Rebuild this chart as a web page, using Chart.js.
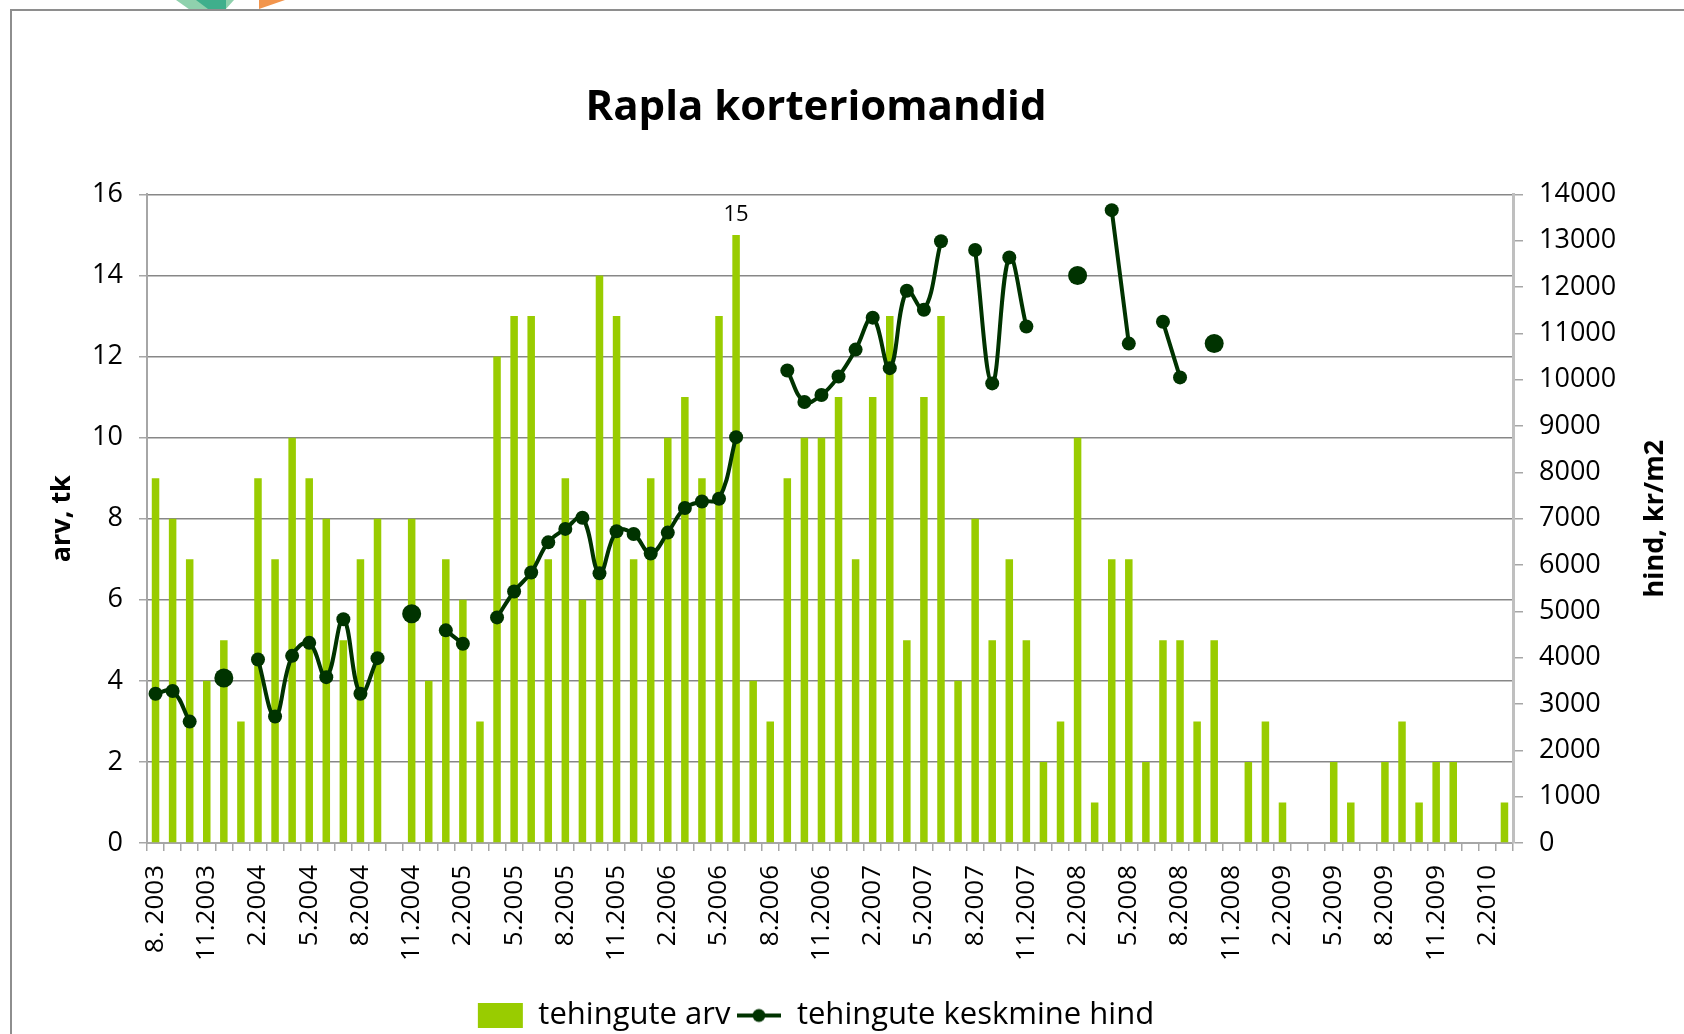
<!DOCTYPE html>
<html>
<head>
<meta charset="utf-8">
<title>Rapla korteriomandid</title>
<script src="https://cdn.jsdelivr.net/npm/chart.js@4/dist/chart.umd.min.js"></script>
<style>
  html, body { margin: 0; padding: 0; background: #fff; }
  #wrap { position: relative; width: 1684px; height: 1034px; overflow: hidden; background: #fff; }
  #frame { position: absolute; left: 10px; top: 9px; right: -4px; bottom: -4px;
           border-left: 2px solid #8e8e8e; border-top: 2px solid #8e8e8e; }
  .logo { position: absolute; top: 0; height: 9px; }
  #logoA { left: 176px; width: 58px; background: #8fd1ad; clip-path: polygon(0 0, 100% 0, 86% 100%, 22% 100%); }
  #logoB { left: 196px; width: 30px; background: #3faf8c; clip-path: polygon(0 0, 100% 0, 100% 100%, 40% 100%); }
  #logoC { left: 259px; width: 26px; background: #f2954d; clip-path: polygon(0 0, 100% 0, 0 100%); }
  canvas { position: absolute; left: 0; top: 0; }
</style>
</head>
<body>
<div id="wrap">
  <div class="logo" id="logoA"></div>
  <div class="logo" id="logoB"></div>
  <div class="logo" id="logoC"></div>
  <div id="frame"></div>
  <canvas id="chart" width="1684" height="1034"></canvas>
</div>
<script>
// months 8.2003 .. 3.2010
const months = [
  '8. 2003', '9.2003', '10.2003', '11.2003', '12.2003',
  '1.2004', '2.2004', '3.2004', '4.2004', '5.2004', '6.2004', '7.2004', '8.2004', '9.2004', '10.2004', '11.2004', '12.2004',
  '1.2005', '2.2005', '3.2005', '4.2005', '5.2005', '6.2005', '7.2005', '8.2005', '9.2005', '10.2005', '11.2005', '12.2005',
  '1.2006', '2.2006', '3.2006', '4.2006', '5.2006', '6.2006', '7.2006', '8.2006', '9.2006', '10.2006', '11.2006', '12.2006',
  '1.2007', '2.2007', '3.2007', '4.2007', '5.2007', '6.2007', '7.2007', '8.2007', '9.2007', '10.2007', '11.2007', '12.2007',
  '1.2008', '2.2008', '3.2008', '4.2008', '5.2008', '6.2008', '7.2008', '8.2008', '9.2008', '10.2008', '11.2008', '12.2008',
  '1.2009', '2.2009', '3.2009', '4.2009', '5.2009', '6.2009', '7.2009', '8.2009', '9.2009', '10.2009', '11.2009', '12.2009',
  '1.2010', '2.2010', '3.2010'
];

// number of deals per month
const dealCount = [
  9, 8, 7, 4, 5,
  3, 9, 7, 10, 9, 8, 5, 7, 8, 0, 8, 4,
  7, 6, 3, 12, 13, 13, 7, 9, 6, 14, 13, 7,
  9, 10, 11, 9, 13, 15, 4, 3, 9, 10, 10, 11,
  7, 11, 13, 5, 11, 13, 4, 8, 5, 7, 5, 2,
  3, 10, 1, 7, 7, 2, 5, 5, 3, 5, 0, 2,
  3, 1, 0, 0, 2, 1, 0, 2, 3, 1, 2, 2,
  0, 0, 1
];

// average price, kr/m2 (null = no figure for that month)
const avgPrice = [
  3220, 3280, 2620, null, 3560,
  null, 3960, 2730, 4040, 4320, 3580, 4830, 3220, 3990, null, 4950, null,
  4590, 4300, null, 4870, 5430, 5840, 6490, 6780, 7020, 5820, 6730, 6670,
  6250, 6700, 7230, 7370, 7430, 8760, null, null, 10200, 9520, 9670, 10070,
  10650, 11340, 10250, 11920, 11510, 12990, null, 12800, 9920, 12640, 11150, null,
  null, 12250, null, 13660, 10780, null, 11250, 10050, null, 10780, null, null,
  null, null, null, null, null, null, null, null, null, null, null, null,
  null, null, null
];

const countTicks = { min: 0, max: 16, step: 2 };
const priceTicks = { min: 0, max: 14000, step: 1000 };

const BAR_GREEN = '#99cc00';
const LINE_GREEN = '#003300';
const GRID = '#878787';
const FONT = '"Open Sans", "DejaVu Sans", sans-serif';
const PAD_BOTTOM = -7;

Chart.defaults.color = '#000';
Chart.defaults.font.family = FONT;

// legend swatch for the price series: a line with a dot on it
function lineSwatch() {
  const c = document.createElement('canvas');
  c.width = 44; c.height = 18;
  const g = c.getContext('2d');
  g.strokeStyle = LINE_GREEN;
  g.lineWidth = 4;
  g.beginPath(); g.moveTo(0, 9); g.lineTo(44, 9); g.stroke();
  g.fillStyle = LINE_GREEN;
  g.beginPath(); g.arc(22, 9, 6.5, 0, Math.PI * 2); g.fill();
  return c;
}

// number above the tallest bar
const maxLabel = {
  id: 'maxLabel',
  afterDatasetsDraw(chart) {
    const meta = chart.getDatasetMeta(0);
    const data = chart.data.datasets[0].data;
    const i = data.indexOf(Math.max(...data));
    const bar = meta.data[i];
    const ctx = chart.ctx;
    ctx.save();
    ctx.font = '22px ' + FONT;
    ctx.fillStyle = '#000';
    ctx.textAlign = 'center';
    ctx.textBaseline = 'middle';
    ctx.fillText(String(data[i]), bar.x, bar.y - 20);
    ctx.restore();
  }
};

// right axis title, reading bottom to top
const rightTitle = {
  id: 'rightTitle',
  afterDraw(chart) {
    const ctx = chart.ctx;
    const area = chart.chartArea;
    ctx.save();
    ctx.translate(1655, (area.top + area.bottom) / 2);
    ctx.rotate(-Math.PI / 2);
    ctx.font = 'bold 27px ' + FONT;
    ctx.fillStyle = '#000';
    ctx.textAlign = 'center';
    ctx.textBaseline = 'middle';
    ctx.fillText('hind, kr/m2', 0, 0);
    ctx.restore();
  }
};

function isolated(ctx) {
  const d = ctx.dataset.data, i = ctx.dataIndex;
  return d[i - 1] == null && d[i + 1] == null;
}

new Chart(document.getElementById('chart'), {
  data: {
    labels: months,
    datasets: [
      {
        type: 'bar',
        label: 'tehingute arv',
        data: dealCount,
        backgroundColor: BAR_GREEN,
        yAxisID: 'y',
        barPercentage: 0.44,
        categoryPercentage: 1,
        order: 1
      },
      {
        type: 'line',
        label: 'tehingute keskmine hind',
        data: avgPrice,
        yAxisID: 'y1',
        borderColor: LINE_GREEN,
        backgroundColor: LINE_GREEN,
        borderWidth: 4,
        tension: 0.4,
        spanGaps: false,
        pointRadius: ctx => isolated(ctx) ? 9.5 : 7,
        pointBorderWidth: 0,
        pointBackgroundColor: LINE_GREEN,
        order: 0
      }
    ]
  },
  options: {
    responsive: false,
    animation: false,
    layout: { padding: { left: 0, right: 52, top: 0, bottom: PAD_BOTTOM } },
    plugins: {
      tooltip: { enabled: false },
      title: {
        display: true,
        text: 'Rapla korteriomandid',
        color: '#000',
        font: { size: 42, weight: 'bold', lineHeight: 1.2 },
        padding: { top: 83, bottom: 61 }
      },
      legend: {
        position: 'bottom',
        labels: {
          usePointStyle: true,
          pointStyleWidth: 45,
          boxHeight: 25,
          padding: 6,
          color: '#000',
          font: { size: 31 },
          generateLabels(chart) {
            const items = Chart.defaults.plugins.legend.labels.generateLabels(chart);
            items.sort((a, b) => a.datasetIndex - b.datasetIndex);
            items.forEach(it => {
              if (it.datasetIndex === 0) {
                it.pointStyle = 'rect';
                it.fillStyle = BAR_GREEN;
                it.strokeStyle = BAR_GREEN;
                it.lineWidth = 0;
              } else {
                it.pointStyle = lineSwatch();
              }
            });
            return items;
          }
        }
      }
    },
    scales: {
      x: {
        grid: { drawOnChartArea: false, offset: true, tickLength: 8, color: '#a6a6a6', lineWidth: 1.5 },
        border: { color: '#a6a6a6', width: 2 },
        ticks: {
          autoSkip: false,
          minRotation: 90,
          maxRotation: 90,
          padding: 14,
          font: { size: 26 },
          callback: (v, i) => i % 3 === 0 ? months[i] : ''
        },
        afterFit: s => { s.height = 1034 - PAD_BOTTOM - 843 - s.chart.legend.height; }
      },
      y: {
        position: 'left',
        min: countTicks.min,
        max: countTicks.max,
        ticks: { stepSize: countTicks.step, padding: 16, font: { size: 27 } },
        grid: { color: GRID, lineWidth: 1.5, tickLength: 8, tickColor: '#a6a6a6' },
        border: { color: '#a6a6a6', width: 2 },
        title: {
          display: true,
          text: 'arv, tk',
          font: { size: 27, weight: 'bold', lineHeight: 1.2 },
          padding: { top: 46, bottom: 0 }
        },
        afterFit: s => { s.width = 147; }
      },
      y1: {
        position: 'right',
        min: priceTicks.min,
        max: priceTicks.max,
        ticks: { stepSize: priceTicks.step, padding: 16, font: { size: 27 }, callback: v => String(v) },
        grid: { drawOnChartArea: false, tickLength: 10, color: '#a6a6a6', lineWidth: 1.5 },
        border: { color: '#bfbfbf', width: 3 },
        afterFit: s => { s.width = 1684 - 52 - 1513; }
      }
    }
  },
  plugins: [maxLabel, rightTitle]
});
</script>
</body>
</html>
